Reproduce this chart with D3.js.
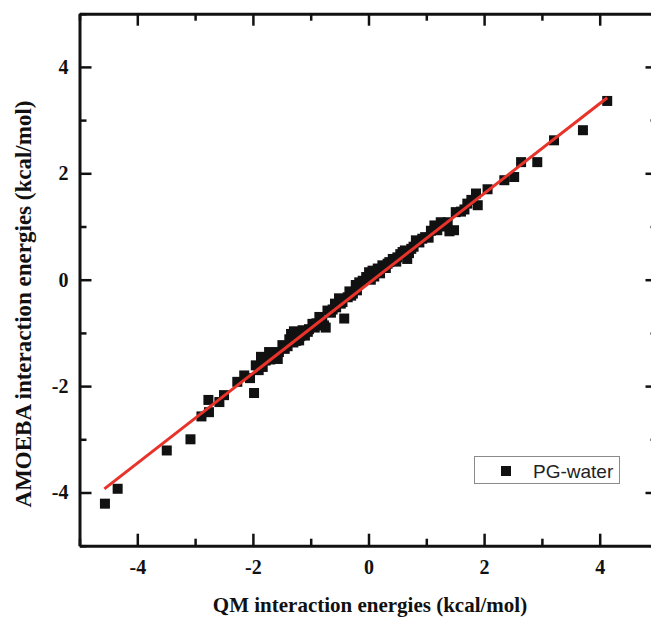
<!DOCTYPE html>
<html>
<head>
<meta charset="utf-8">
<script src="https://cdn.jsdelivr.net/npm/d3@7"></script>
<style>
  body { margin: 0; background: #fff; }
  .tick text { font-family: "Liberation Serif", "Times New Roman", serif; font-weight: bold; font-size: 20px; fill: #111; }
  .axis path, .axis line { stroke: #111; }
</style>
</head>
<body>
<script>
// QM vs AMOEBA interaction energies (kcal/mol), PG-water
const qmValues = [
  -4.56, -4.34, -3.49, -3.08, -2.89, -2.77, -2.76, -2.58, -2.50, -2.27,
  -2.15, -1.98, -1.95, -1.90, -1.83, -1.86, -1.78, -1.72, -1.66, -1.57,
  -1.55, -1.49, -1.40, -1.37, -1.34, -1.29, -1.25, -1.20, -1.14, -1.10,
  -1.03, -0.97, -0.93, -0.85, -0.80, -0.77, -0.74, -0.71, -0.65, -0.56,
  -0.51, -0.48, -0.42, -0.36, -0.33, -0.27, -0.22, -0.16, -0.10, -0.04,
  0.01, 0.07, 0.10, 0.16, 0.24, 0.30, 0.36, 0.42, 0.48, 0.55,
  0.59, 0.67, 0.70, 0.78, 0.82, 0.88, 0.93, 1.04, 1.14, 1.19,
  1.25, 1.37, 1.40, 1.48, 1.51, 1.60, 1.71, 1.86, 1.89, 2.06,
  2.35, 2.52, 2.64, 2.92, 3.21, 3.71, 4.13,
  -2.05, -1.70, -1.62, -1.45, -1.30, -1.18, -1.05, -0.90, -0.62, -0.58,
  -0.45, -0.30, -0.20, 0.04, 0.20, 0.33, 0.50, 0.63, 0.74, 0.98,
  1.08, 1.30, 1.66, 1.78
];
const amoebaValues = [
  -4.21, -3.93, -3.21, -3.00, -2.57, -2.26, -2.49, -2.30, -2.17, -1.92,
  -1.80, -2.13, -1.61, -1.70, -1.64, -1.45, -1.52, -1.36, -1.42, -1.49,
  -1.36, -1.23, -1.25, -1.12, -1.02, -0.97, -1.15, -1.14, -0.95, -1.05,
  -0.93, -0.83, -0.90, -0.70, -0.78, -0.86, -0.90, -0.58, -0.62, -0.52,
  -0.35, -0.45, -0.73, -0.33, -0.22, -0.26, -0.10, -0.05, -0.02, 0.05,
  0.14, 0.17, 0.06, 0.21, 0.27, 0.22, 0.33, 0.39, 0.34, 0.48,
  0.52, 0.39, 0.50, 0.62, 0.74, 0.70, 0.77, 0.79, 1.02, 0.93,
  1.08, 1.08, 0.91, 0.93, 1.27, 1.28, 1.43, 1.62, 1.40, 1.70,
  1.87, 1.93, 2.21, 2.21, 2.62, 2.81, 3.36,
  -1.85, -1.50, -1.47, -1.30, -1.18, -1.06, -0.98, -0.82, -0.56, -0.45,
  -0.42, -0.30, -0.20, 0.00, 0.12, 0.30, 0.42, 0.55, 0.58, 0.80,
  0.92, 1.00, 1.32, 1.50
];

// linear fit (red line)
const fitSlope = 0.845;
const fitIntercept = -0.07;
const fitRange = [-4.57, 4.13];

const majorTicks = [-4, -2, 0, 2, 4];
const minorTicks = [-5, -3, -1, 1, 3, 5];
const seriesName = 'PG-water';

const w = 651, h = 619;
const plotLeft = 79.5, plotRight = 657.5, plotTop = 13.7, plotBottom = 545.7;

const svg = d3.select('body').append('svg')
  .attr('width', w)
  .attr('height', h);

const x = d3.scaleLinear().domain([-5, 5]).range([plotLeft, plotRight]);
const y = d3.scaleLinear().domain([-5, 5]).range([plotBottom, plotTop]);

// points
const pts = qmValues.map((v, i) => [v, amoebaValues[i]]);
svg.append('g').selectAll('rect')
  .data(pts)
  .enter()
  .append('rect')
  .attr('x', d => x(d[0]) - 5)
  .attr('y', d => y(d[1]) - 5)
  .attr('width', 10)
  .attr('height', 10)
  .attr('fill', '#111');

// fit line
const line = d3.line().x(d => x(d)).y(d => y(fitSlope * d + fitIntercept));
svg.append('path')
  .datum(fitRange)
  .attr('d', line)
  .attr('fill', 'none')
  .attr('stroke', '#e8332b')
  .attr('stroke-width', 3);

// axes, ticks inward
function addAxis(axisFn, scale, transform, labels) {
  svg.append('g').attr('class', 'axis').attr('transform', transform)
    .call(axisFn(scale).tickValues(minorTicks).tickSize(-7).tickFormat(''))
    .call(g => g.select('.domain').remove())
    .selectAll('line').attr('stroke-width', 2.5);
  const g = svg.append('g').attr('class', 'axis').attr('transform', transform)
    .call(axisFn(scale).tickValues(majorTicks).tickSizeInner(-12).tickSizeOuter(0)
      .tickPadding(labels ? 14 : 0).tickFormat(labels ? (d => String(d)) : ''));
  g.selectAll('line').attr('stroke-width', 2.5);
  g.select('.domain').attr('stroke-width', 3);
  return g;
}

addAxis(d3.axisBottom, x, `translate(0,${plotBottom})`, true);
addAxis(d3.axisTop, x, `translate(0,${plotTop})`, false);
const yl = addAxis(d3.axisLeft, y, `translate(${plotLeft},0)`, true);
yl.selectAll('text').attr('x', -11);
addAxis(d3.axisRight, y, `translate(${plotRight},0)`, false);

// axis titles
svg.append('text')
  .attr('x', 370)
  .attr('y', 612)
  .attr('text-anchor', 'middle')
  .style('font-family', '"Liberation Serif", "Times New Roman", serif')
  .style('font-weight', 'bold')
  .style('font-size', '21px')
  .style('fill', '#111')
  .text('QM interaction energies (kcal/mol)');

svg.append('text')
  .attr('transform', 'translate(31,304) rotate(-90)')
  .attr('text-anchor', 'middle')
  .style('font-family', '"Liberation Serif", "Times New Roman", serif')
  .style('font-weight', 'bold')
  .style('font-size', '23px')
  .style('fill', '#111')
  .text('AMOEBA interaction energies (kcal/mol)');

// legend
const lg = svg.append('g');
lg.append('rect')
  .attr('x', 474.5).attr('y', 456.5)
  .attr('width', 145).attr('height', 27)
  .attr('fill', '#fff')
  .attr('stroke', '#8a8a8a')
  .attr('stroke-width', 1);
lg.append('rect')
  .attr('x', 501).attr('y', 466)
  .attr('width', 10).attr('height', 10)
  .attr('fill', '#111');
lg.append('text')
  .attr('x', 533)
  .attr('y', 477.5)
  .style('font-family', '"Liberation Sans", Arial, sans-serif')
  .style('font-size', '19px')
  .style('fill', '#222')
  .text(seriesName);
</script>
</body>
</html>
